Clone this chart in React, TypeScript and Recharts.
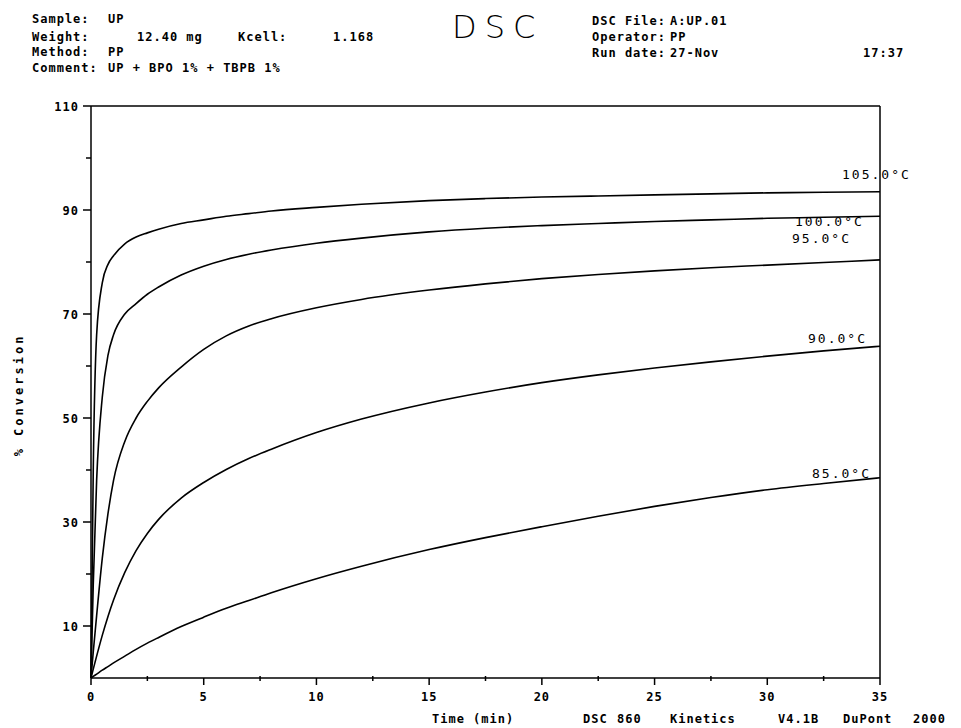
import { LineChart, Line, XAxis, YAxis, ReferenceLine } from 'recharts'

const W = 961
const H = 728
const PLOT_LEFT = 91
const PLOT_RIGHT = 880
const PLOT_TOP = 106
const PLOT_BOTTOM = 678

const times = [0, 0.1, 0.25, 0.5, 0.75, 1, 1.5, 2, 2.5, 3, 4, 5, 6, 7, 8, 10, 12, 15, 17.5, 20, 22.5, 25, 27.5, 30, 32.5, 35]

const conv105 = [0, 40, 66, 76, 79.5, 81.2, 83.5, 84.8, 85.6, 86.3, 87.4, 88.1, 88.8, 89.3, 89.8, 90.5, 91.1, 91.8, 92.2, 92.5, 92.7, 92.9, 93.1, 93.3, 93.4, 93.5]
const conv100 = [0, 18, 38, 54, 62, 66, 70, 72, 73.8, 75.2, 77.5, 79.2, 80.5, 81.5, 82.3, 83.6, 84.6, 85.8, 86.5, 87, 87.4, 87.8, 88.1, 88.4, 88.6, 88.8]
const conv95 = [0, 5, 12, 23, 31.5, 38, 45.5, 50, 53.2, 55.8, 59.8, 63.2, 65.8, 67.7, 69.1, 71.2, 72.8, 74.6, 75.8, 76.8, 77.6, 78.3, 78.9, 79.4, 79.9, 80.4]
const conv90 = [0, 1.7, 4.2, 8.2, 11.8, 15, 20.3, 24.5, 27.8, 30.5, 34.6, 37.6, 40.1, 42.2, 44, 47.2, 49.8, 52.9, 55, 56.8, 58.3, 59.6, 60.8, 61.9, 62.9, 63.8]
const conv85 = [0, 0.3, 0.75, 1.5, 2.2, 2.9, 4.2, 5.5, 6.7, 7.8, 9.9, 11.7, 13.4, 14.9, 16.4, 19.1, 21.5, 24.7, 27, 29.1, 31.1, 33, 34.7, 36.2, 37.4, 38.5]

const xTicks = [0, 2.5, 5, 7.5, 10, 12.5, 15, 17.5, 20, 22.5, 25, 27.5, 30, 32.5, 35]
const yTicks = [0, 10, 20, 30, 40, 50, 60, 70, 80, 90, 100, 110]

const series = [
  { key: 't105', values: conv105, label: '105.0°C', dx: -38, dy: -13 },
  { key: 't100', values: conv100, label: '100.0°C', dx: -85, dy: 10 },
  { key: 't95', values: conv95, label: '95.0°C', dx: -88, dy: -17 },
  { key: 't90', values: conv90, label: '90.0°C', dx: -72, dy: -3 },
  { key: 't85', values: conv85, label: '85.0°C', dx: -68, dy: 0 },
]

const data = times.map((t, i) => {
  const row: Record<string, number> = { t }
  series.forEach((s) => {
    row[s.key] = s.values[i]
  })
  return row
})

const MONO = '"DejaVu Sans Mono", monospace'
const hdr = { fontFamily: MONO, fontSize: 12, fontWeight: 700, letterSpacing: 1, fill: '#000' }
const lbl = { fontFamily: MONO, fontSize: 13, letterSpacing: 2, fill: '#000' }

function YTick({ y, payload }: any) {
  const v = payload.value
  if (v === 0) return null
  const major = v % 20 === 10
  return (
    <g>
      <line x1={PLOT_LEFT - (major ? 8 : 5)} x2={PLOT_LEFT} y1={y} y2={y} stroke="#000" strokeWidth={1.5} />
      {major && (
        <text x={PLOT_LEFT - 12} y={y + 5} textAnchor="end" style={hdr}>
          {v}
        </text>
      )}
    </g>
  )
}

function XTick({ x, payload }: any) {
  const v = payload.value
  const major = v % 5 === 0
  return (
    <g>
      <line x1={x} x2={x} y1={PLOT_BOTTOM - (major ? 0 : 2)} y2={PLOT_BOTTOM + (major ? 7 : 3)} stroke="#000" strokeWidth={1.5} />
      {major && (
        <text x={x} y={PLOT_BOTTOM + 23} textAnchor="middle" style={hdr}>
          {v}
        </text>
      )}
    </g>
  )
}

function endLabel(label: string, dx: number, dy: number) {
  return (props: any) => {
    if (props.index !== times.length - 1) return null
    return (
      <text key={label} x={props.x + dx} y={props.y + dy} style={lbl}>
        {label}
      </text>
    )
  }
}

export default function App() {
  return (
    <div style={{ position: 'absolute', left: 0, top: 0, width: W, height: H, background: '#fff' }}>
      <LineChart
        width={W}
        height={H}
        data={data}
        margin={{ top: PLOT_TOP, right: W - PLOT_RIGHT, bottom: H - PLOT_BOTTOM - 30, left: PLOT_LEFT - 60 }}
      >
        <XAxis
          dataKey="t"
          type="number"
          domain={[0, 35]}
          ticks={xTicks}
          height={30}
          tick={<XTick />}
          tickLine={false}
          axisLine={{ stroke: '#000', strokeWidth: 1.5 }}
          interval={0}
        />
        <YAxis
          type="number"
          domain={[0, 110]}
          ticks={yTicks}
          width={60}
          tick={<YTick />}
          tickLine={false}
          axisLine={{ stroke: '#000', strokeWidth: 1.5 }}
          interval={0}
        />
        <ReferenceLine y={110} stroke="#000" strokeWidth={1.5} />
        <ReferenceLine x={35} stroke="#000" strokeWidth={1.5} />
        {series.map((s) => (
          <Line
            key={s.key}
            dataKey={s.key}
            type="monotone"
            stroke="#000"
            strokeWidth={1.6}
            dot={false}
            isAnimationActive={false}
            label={endLabel(s.label, s.dx, s.dy)}
          />
        ))}
      </LineChart>
      <svg width={W} height={H} style={{ position: 'absolute', left: 0, top: 0, pointerEvents: 'none' }}>
        <text x={32} y={23} style={hdr}>Sample:</text>
        <text x={108} y={23} style={hdr}>UP</text>
        <text x={32} y={41} style={hdr}>Weight:</text>
        <text x={137} y={41} style={hdr}>12.40 mg</text>
        <text x={238} y={41} style={hdr}>Kcell:</text>
        <text x={333} y={41} style={hdr}>1.168</text>
        <text x={32} y={56} style={hdr}>Method:</text>
        <text x={108} y={56} style={hdr}>PP</text>
        <text x={32} y={72} style={hdr}>Comment:</text>
        <text x={108} y={72} style={hdr}>UP + BPO 1% + TBPB 1%</text>

        <text x={452} y={38} style={{ fontFamily: '"DejaVu Sans", sans-serif', fontSize: 32, fontWeight: 200, letterSpacing: 8, fill: '#000' }}>
          DSC
        </text>

        <text x={592} y={25} style={hdr}>DSC File:</text>
        <text x={670} y={25} style={hdr}>A:UP.01</text>
        <text x={592} y={41} style={hdr}>Operator:</text>
        <text x={670} y={41} style={hdr}>PP</text>
        <text x={592} y={57} style={hdr}>Run date:</text>
        <text x={670} y={57} style={hdr}>27-Nov</text>
        <text x={863} y={57} style={hdr}>17:37</text>

        <text
          x={23}
          y={395}
          transform="rotate(-90 23 395)"
          textAnchor="middle"
          style={{ ...hdr, letterSpacing: 3 }}
        >
          % Conversion
        </text>

        <text x={432} y={723} style={hdr}>Time  (min)</text>
        <text x={583} y={723} style={hdr}>DSC</text>
        <text x={617} y={723} style={hdr}>860</text>
        <text x={670} y={723} style={hdr}>Kinetics</text>
        <text x={778} y={723} style={hdr}>V4.1B</text>
        <text x={843} y={723} style={hdr}>DuPont</text>
        <text x={913} y={723} style={hdr}>2000</text>
      </svg>
    </div>
  )
}
